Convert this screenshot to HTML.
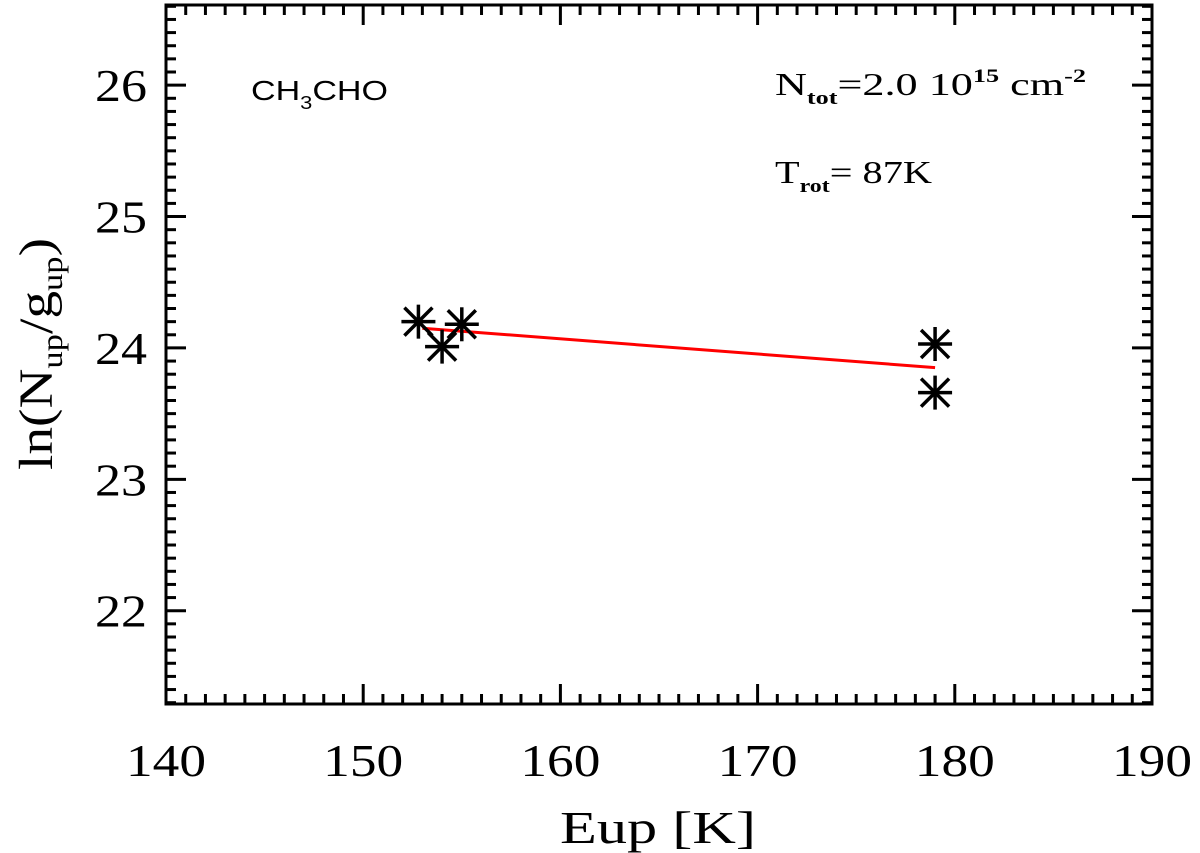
<!DOCTYPE html>
<html><head><meta charset="utf-8"><style>
html,body{margin:0;padding:0;background:#fff;}
svg{display:block;font-family:"Liberation Serif",serif;}
</style></head><body>
<svg id="chart" width="1200" height="853" viewBox="0 0 1200 853" xmlns="http://www.w3.org/2000/svg">
<g id="axes"></g>
<g id="marks"></g>
<text x="560" y="843" font-size="46" textLength="196" lengthAdjust="spacingAndGlyphs">Eup [K]</text>
<text transform="translate(52,470) rotate(-90)" font-size="48" textLength="232" lengthAdjust="spacingAndGlyphs">ln(N<tspan font-size="30" dy="10">up</tspan><tspan dy="-10">/g</tspan><tspan font-size="30" dy="10">up</tspan><tspan dy="-10">)</tspan></text>
<text x="251" y="100" font-size="28" font-family="Liberation Sans, sans-serif" textLength="137" lengthAdjust="spacingAndGlyphs">CH<tspan font-size="18" dy="9">3</tspan><tspan dy="-9">CHO</tspan></text>
<text x="775" y="95" font-size="32" textLength="311" lengthAdjust="spacingAndGlyphs">N<tspan font-size="19" font-weight="bold" dy="9">tot</tspan><tspan dy="-9">=2.0  10</tspan><tspan font-size="19" font-weight="bold" dy="-13">15</tspan><tspan dy="13"> cm</tspan><tspan font-size="19" font-weight="bold" dy="-13">-2</tspan></text>
<text x="775" y="183" font-size="32" textLength="157" lengthAdjust="spacingAndGlyphs">T<tspan font-size="19" font-weight="bold" dy="9">rot</tspan><tspan dy="-9">=  87K</tspan></text>
</svg>
<script>
const xTicks=[140,150,160,170,180,190];
const yTicks=[22,23,24,25,26];
const ptX=[152.8,154.0,155.0,179.0,179.0];
const ptY=[24.20,24.01,24.18,24.03,23.66];
const fitX=[153,179];
const fitY=[24.15,23.85];
const L=166,R=1152,T=5,B=704;
const xmin=140,xmax=190,ymin=21.29,ymax=26.61;
const sx=v=>L+(v-xmin)/(xmax-xmin)*(R-L);
const sy=v=>B-(v-ymin)/(ymax-ymin)*(B-T);
const NS="http://www.w3.org/2000/svg";
const ax=document.getElementById('axes'),mk=document.getElementById('marks');
function ln(g,x1,y1,x2,y2,c,w){const e=document.createElementNS(NS,'line');e.setAttribute('x1',x1);e.setAttribute('y1',y1);e.setAttribute('x2',x2);e.setAttribute('y2',y2);e.setAttribute('stroke',c);e.setAttribute('stroke-width',w);g.appendChild(e);return e;}
const fr=document.createElementNS(NS,'rect');


fr.setAttribute('x',L);fr.setAttribute('y',T);fr.setAttribute('width',R-L);fr.setAttribute('height',B-T);fr.setAttribute('fill','none');fr.setAttribute('stroke','#000');fr.setAttribute('stroke-width',3);ax.appendChild(fr);
for(let v=xmin;v<=xmax;v++){const x=sx(v);const maj=v%10===0;const len=maj?20:10;
 const a=ln(ax,x,B,x,B-len,'#000',3);
 const b=ln(ax,x,T,x,T+len,'#000',3);}
for(let i=Math.ceil(ymin*10);i<=Math.floor(ymax*10);i++){const y=sy(i/10);const maj=i%10===0;const len=maj?20:10;
 const a=ln(ax,L,y,L+len,y,'#000',3);
 const b=ln(ax,R,y,R-len,y,'#000',3);}
xTicks.forEach(v=>{const t=document.createElementNS(NS,'text');
 
 
 t.setAttribute('x',sx(v)-40);t.setAttribute('y',776);t.setAttribute('font-size',46);t.setAttribute('textLength',80);t.setAttribute('lengthAdjust','spacingAndGlyphs');t.textContent=v;ax.appendChild(t);});
yTicks.forEach(v=>{const t=document.createElementNS(NS,'text');
 
 
 t.setAttribute('x',95);t.setAttribute('y',sy(v)+16);t.setAttribute('font-size',46);t.setAttribute('textLength',52);t.setAttribute('lengthAdjust','spacingAndGlyphs');t.textContent=v;ax.appendChild(t);});
const fl=ln(mk,sx(fitX[0]),sy(fitY[0]),sx(fitX[1]),sy(fitY[1]),'#f00',3);


ptX.forEach((v,i)=>{const g=document.createElementNS(NS,'g');
 
 
 const cx=sx(v),cy=sy(ptY[i]),r=17,d=14;
 ln(g,cx-r,cy,cx+r,cy,'#000',3.5);ln(g,cx,cy-r,cx,cy+r,'#000',3.5);
 ln(g,cx-d,cy-d,cx+d,cy+d,'#000',3.5);ln(g,cx-d,cy+d,cx+d,cy-d,'#000',3.5);
 mk.appendChild(g);});
</script>
</body></html>
